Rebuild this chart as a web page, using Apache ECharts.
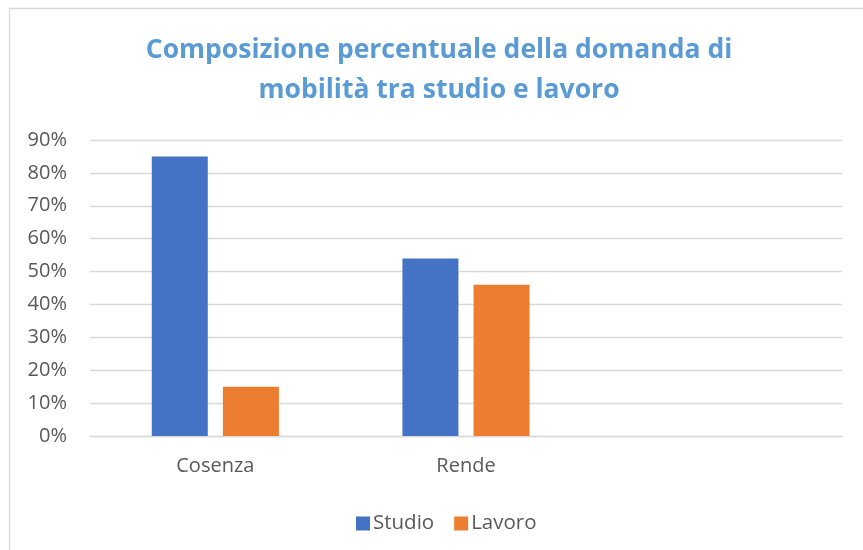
<!DOCTYPE html>
<html>
<head>
<meta charset="utf-8">
<script src="https://cdn.jsdelivr.net/npm/echarts@6/dist/echarts.min.js"></script>
<style>
html,body{margin:0;padding:0;background:#fff;}
#chart{width:863px;height:550px;}
</style>
</head>
<body>
<div id="chart"></div>
<script>
const titleText = 'Composizione percentuale della domanda di\nmobilità tra studio e lavoro';
const categories = ['Cosenza', 'Rende', ''];
const seriesNames = ['Studio', 'Lavoro'];
const studio = [85, 54, null];
const lavoro = [15, 46, null];
const yTicks = { min: 0, max: 90, interval: 10 };

const chart = echarts.init(document.getElementById('chart'), null, { renderer: 'canvas' });
const font = '"Open Sans", "DejaVu Sans", sans-serif';
const option = {
  animation: false,
  backgroundColor: '#fff',
  graphic: [
    { type: 'rect', shape: { x: 9.5, y: 8.5, width: 900, height: 600 }, style: { fill: 'none', stroke: '#d9d9d9', lineWidth: 1.3 }, silent: true },
    { type: 'text', x: 439, y: 30, style: { text: titleText, fontFamily: font, fontWeight: 'bold', fontSize: 26.5, lineHeight: 40, fill: '#5B9BD5', align: 'center', verticalAlign: 'top' } }
  ],
  grid: { left: 90, right: 21, top: 140, bottom: 114, containLabel: false },
  legend: {
    data: seriesNames,
    left: 351, top: 508,
    itemWidth: 14, itemHeight: 14, itemGap: 20,
    icon: 'rect',
    textStyle: { fontFamily: font, fontSize: 20.5, color: '#595959', padding: [0, 0, 0, -2] }
  },
  xAxis: {
    type: 'category',
    data: categories,
    axisTick: { show: false },
    axisLine: { lineStyle: { color: '#d9d9d9', width: 1.3 } },
    axisLabel: { fontFamily: font, fontSize: 20, color: '#595959', margin: 20 }
  },
  yAxis: {
    type: 'value',
    min: yTicks.min, max: yTicks.max, interval: yTicks.interval,
    axisLine: { show: false },
    axisTick: { show: false },
    splitLine: { lineStyle: { color: '#d9d9d9', width: 1.3 } },
    axisLabel: { fontFamily: font, fontSize: 20, color: '#595959', margin: 23, formatter: '{value}%' }
  },
  series: [
    { name: seriesNames[0], type: 'bar', data: studio, barWidth: 56, barGap: '27%', itemStyle: { color: '#4472C4' } },
    { name: seriesNames[1], type: 'bar', data: lavoro, barWidth: 56, barGap: '27%', itemStyle: { color: '#ED7D31' } }
  ]
};
chart.setOption(option);
</script>
</body>
</html>
